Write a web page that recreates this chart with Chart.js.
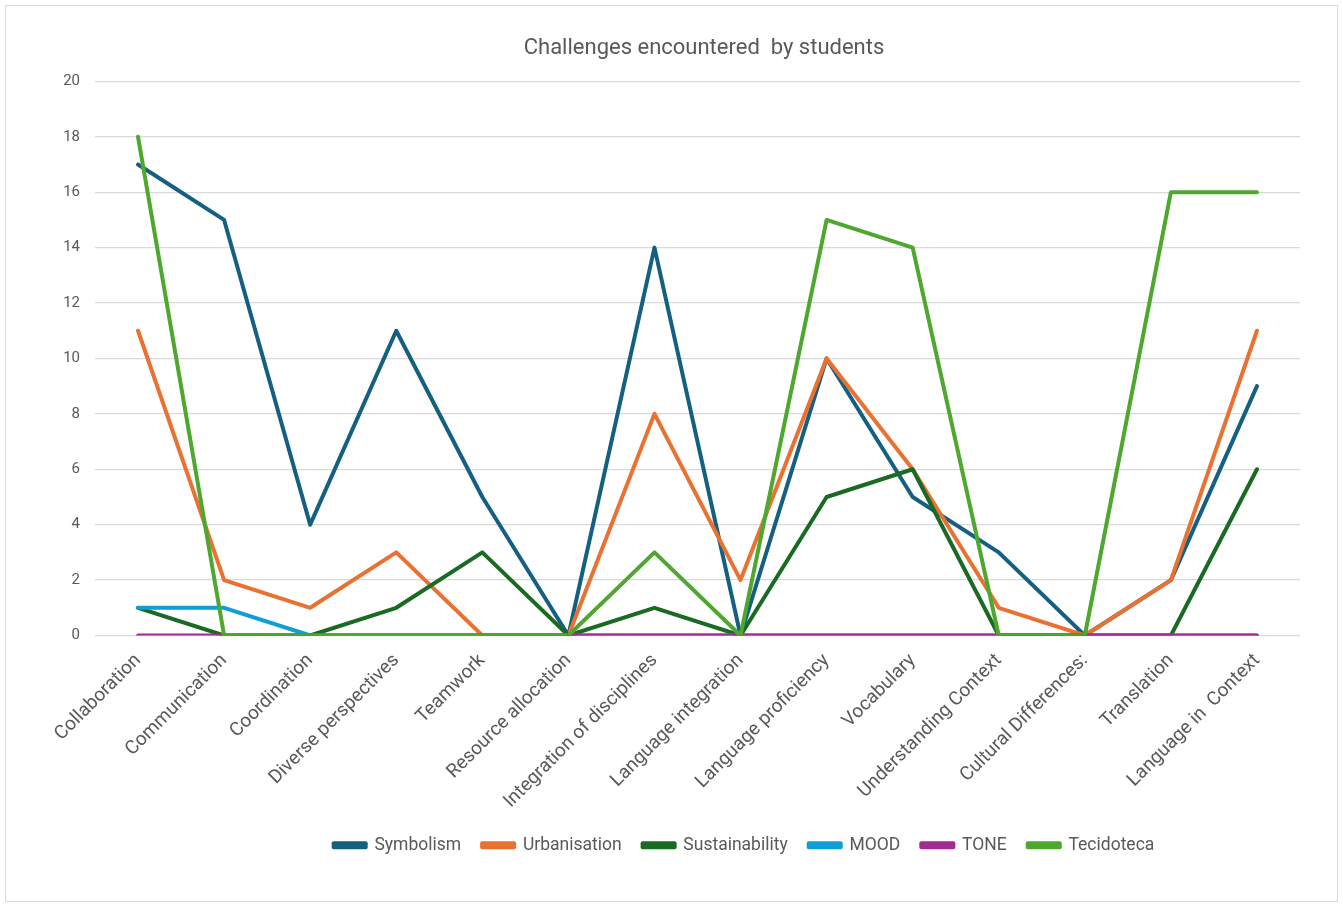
<!DOCTYPE html>
<html>
<head>
<meta charset="utf-8">
<script src="https://cdn.jsdelivr.net/npm/chart.js@4/dist/chart.umd.min.js"></script>
<style>
  html, body { margin: 0; padding: 0; background: #fff; }
  .frame { position: absolute; left: 5px; top: 5px; width: 1331px; height: 895px; border: 1px solid #d9d9d9; }
  .wrap { position: absolute; left: 0; top: 0; width: 1343px; height: 907px; }
</style>
</head>
<body>
<div class="frame"></div>
<div class="wrap"><canvas id="myChart" width="1343" height="907"></canvas></div>
<script>
  // categories along the bottom axis
  var challenges = [
    "Collaboration", "Communication", "Coordination", "Diverse perspectives",
    "Teamwork", "Resource allocation", "Integration of disciplines",
    "Language integration", "Language proficiency", "Vocabulary",
    "Understanding Context", "Cultural Differences:", "Translation",
    "Language in  Context"
  ];

  // counts per project
  var symbolism      = [17, 15, 4, 11, 5, 0, 14, 0, 10, 5, 3, 0, 2, 9];
  var urbanisation   = [11, 2, 1, 3, 0, 0, 8, 2, 10, 6, 1, 0, 2, 11];
  var sustainability = [1, 0, 0, 1, 3, 0, 1, 0, 5, 6, 0, 0, 0, 6];
  var mood           = [1, 1, 0, 0, 0, 0, 0, 0, 0, 0, 0, 0, 0, 0];
  var tone           = [0, 0, 0, 0, 0, 0, 0, 0, 0, 0, 0, 0, 0, 0];
  var tecidoteca     = [18, 0, 0, 0, 0, 0, 3, 0, 15, 14, 0, 0, 16, 16];

  var yTicks = [0, 2, 4, 6, 8, 10, 12, 14, 16, 18, 20];

  var fontFamily = "Roboto, 'Open Sans', sans-serif";
  var grey = "#595959";

  function series(label, data, color, order) {
    return {
      label: label,
      data: data,
      borderColor: color,
      backgroundColor: color,
      borderWidth: 4,
      pointRadius: 0,
      pointHoverRadius: 0,
      tension: 0,
      borderJoinStyle: "round",
      borderCapStyle: "round",
      fill: false,
      order: order
    };
  }

  // title and legend sit a bit right of the canvas centre
  var nudgeBoxes = {
    id: "nudgeBoxes",
    afterLayout: function (chart) {
      chart.titleBlock.left += 54;
      chart.titleBlock.right += 54;
      chart.legend.left += 94;
      chart.legend.right += 94;
    }
  };

  var ctx = document.getElementById("myChart").getContext("2d");
  new Chart(ctx, {
    type: "line",
    data: {
      labels: challenges,
      datasets: [
        series("Symbolism", symbolism, "#156082", 6),
        series("Urbanisation", urbanisation, "#E97132", 5),
        series("Sustainability", sustainability, "#196B24", 4),
        series("MOOD", mood, "#0F9ED5", 3),
        series("TONE", tone, "#A02B93", 2),
        series("Tecidoteca", tecidoteca, "#4EA72E", 1)
      ]
    },
    plugins: [nudgeBoxes],
    options: {
      responsive: false,
      animation: false,
      layout: { padding: { top: 35, right: 43, bottom: 43, left: 0 } },
      plugins: {
        title: {
          display: true,
          text: "Challenges encountered  by students",
          color: grey,
          font: { family: fontFamily, size: 22, weight: "normal" },
          padding: { top: 0, bottom: 20 }
        },
        legend: {
          position: "bottom",
          labels: {
            color: grey,
            font: { family: fontFamily, size: 17.5 },
            boxWidth: 32,
            boxHeight: 4,
            padding: 21,
            sort: function (a, b) { return a.datasetIndex - b.datasetIndex; }
          }
        },
        tooltip: { enabled: false }
      },
      scales: {
        x: {
          offset: true,
          grid: { display: false, drawTicks: false },
          border: { display: false },
          ticks: {
            color: grey,
            font: { family: fontFamily, size: 19 },
            minRotation: 45,
            maxRotation: 45,
            autoSkip: false,
            padding: 14
          },
          afterFit: function (scale) { scale.height = 180; }
        },
        y: {
          min: 0,
          max: 20,
          afterBuildTicks: function (scale) {
            scale.ticks = yTicks.map(function (v) { return { value: v }; });
          },
          grid: { color: "#d9d9d9", lineWidth: 1.3, drawTicks: false },
          border: { display: false },
          ticks: {
            color: grey,
            font: { family: fontFamily, size: 15 },
            padding: 15
          },
          afterFit: function (scale) { scale.width = 95; }
        }
      }
    }
  });
</script>
</body>
</html>
